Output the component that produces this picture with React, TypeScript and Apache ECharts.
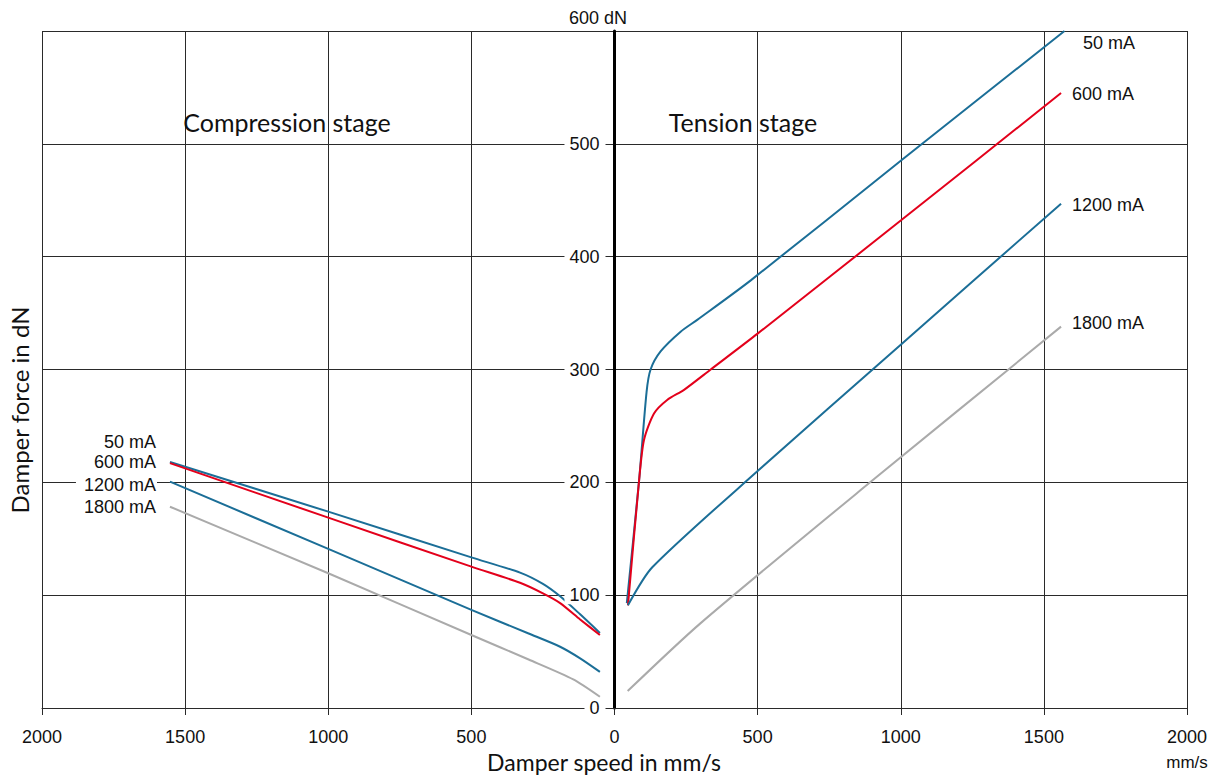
import React, { useEffect, useRef } from 'react';
import * as echarts from 'echarts';

// Speed axis ticks (mm/s), compression stage drawn at negative speeds
const SPEED_MIN = -2000;
const SPEED_MAX = 2000;
const SPEED_STEP = 500;
const FORCE_MIN = 0;
const FORCE_MAX = 600;
const FORCE_STEP = 100;

const currents = ['50 mA', '600 mA', '1200 mA', '1800 mA'];

// Compression stage: [speed (negative), force dN]
const comp50: number[][] = [
  [-1553, 218], [-1000, 174], [-500, 133.5],
  [-330, 120], [-250, 110], [-190, 99], [-120, 83], [-51, 66.5],
];
const comp600: number[][] = [
  [-1553, 217], [-1000, 168.7], [-500, 125.3],
  [-330, 111], [-250, 101.6], [-190, 93], [-120, 78.5], [-51, 64.7],
];
const comp1200: number[][] = [
  [-1553, 200.6], [-1000, 141], [-500, 87],
  [-300, 66], [-190, 54.3], [-120, 44], [-51, 32],
];
const comp1800: number[][] = [
  [-1553, 178.4], [-1000, 119.4], [-500, 64.7],
  [-300, 43], [-144, 25.4], [-51, 10],
];

// Tension stage: [speed, force dN]
const ten50: number[][] = [
  [43, 93], [86, 202], [112, 280], [126, 300], [161, 316], [231, 333.5],
  [289, 344], [476, 379], [1000, 485], [1572, 600],
];
const ten600: number[][] = [
  [47, 91], [86, 202], [103, 237.5], [138, 261], [184, 273], [243, 282],
  [336, 300], [501, 332], [1000, 432], [1560, 545],
];
const ten1200: number[][] = [
  [47, 91], [132, 124.7], [500, 210], [1000, 322], [1560, 447],
];
const ten1800: number[][] = [
  [46, 15], [300, 75], [893, 200], [1560, 338],
];

const BLUE = '#1b6e97';
const RED = '#e3001b';
const GRAY = '#aaaaaa';
const GRID = '#2a2a2a';
const TICK_FONT = '"Liberation Sans", Arial, sans-serif';
const TITLE_FONT = 'Lato, "Noto Sans", sans-serif';

function lineSeries(name: string, data: number[][], color: string) {
  return {
    name,
    type: 'line',
    data,
    smooth: 0.25,
    showSymbol: false,
    symbol: 'none',
    lineStyle: { color, width: 2 },
    z: 3,
  };
}

export default function App() {
  const ref = useRef<HTMLDivElement>(null);
  useEffect(() => {
    const chart = echarts.init(ref.current!, null, { renderer: 'svg' });
    const labelStyle = { fontFamily: TICK_FONT, fontSize: 18, fill: '#111' };
    const option: any = {
      animation: false,
      backgroundColor: '#fff',
      grid: { left: 42, right: 28, top: 31, bottom: 68, containLabel: false, outerBoundsMode: 'none' },
      xAxis: {
        type: 'value',
        min: SPEED_MIN,
        max: SPEED_MAX,
        interval: SPEED_STEP,
        position: 'bottom',
        axisLine: { show: true, onZero: false, lineStyle: { color: GRID, width: 1 } },
        axisTick: { show: true, length: 7, lineStyle: { color: GRID } },
        axisLabel: {
          show: true,
          margin: 20,
          fontSize: 18,
          fontFamily: TICK_FONT,
          color: '#111',
          showMinLabel: true,
          showMaxLabel: true,
          formatter: (v: number) => String(Math.abs(v)),
        },
        splitLine: { show: true, lineStyle: { color: GRID, width: 1 } },
      },
      yAxis: [
        {
          type: 'value',
          min: FORCE_MIN,
          max: FORCE_MAX,
          interval: FORCE_STEP,
          position: 'left',
          axisLine: { show: true, onZero: true, lineStyle: { color: '#000', width: 3 } },
          axisTick: { show: false },
          axisLabel: { show: false },
          splitLine: { show: true, lineStyle: { color: GRID, width: 1 } },
        },
        {
          type: 'value',
          min: FORCE_MIN,
          max: FORCE_MAX,
          interval: FORCE_STEP,
          position: 'left',
          offset: -572.5,
          z: 6,
          axisLine: { show: false, onZero: false },
          axisTick: { show: false },
          splitLine: { show: false },
          axisLabel: {
            show: true,
            margin: 9,
            fontSize: 18,
            fontFamily: TICK_FONT,
            color: '#111',
            backgroundColor: '#fff',
            padding: [0, 6, 0, 5],
            formatter: (v: number) => (v >= FORCE_MAX ? '' : String(v)),
          },
        },
      ],
      series: [
        lineSeries(currents[0] + ' C', comp50, BLUE),
        lineSeries(currents[1] + ' C', comp600, RED),
        lineSeries(currents[2] + ' C', comp1200, BLUE),
        lineSeries(currents[3] + ' C', comp1800, GRAY),
        lineSeries(currents[0] + ' T', ten50, BLUE),
        lineSeries(currents[1] + ' T', ten600, RED),
        lineSeries(currents[2] + ' T', ten1200, BLUE),
        lineSeries(currents[3] + ' T', ten1800, GRAY),
      ],
      graphic: [
        { type: 'text', x: 598, y: 18, z: 10, style: { ...labelStyle, text: '600 dN', align: 'center', verticalAlign: 'middle' } },
        { type: 'text', x: 1187, y: 762, z: 10, style: { ...labelStyle, fontSize: 17, text: 'mm/s', align: 'center', verticalAlign: 'middle' } },
        { type: 'text', x: 604, y: 762, z: 10, style: { fontFamily: TITLE_FONT, fontSize: 23, fill: '#111', text: 'Damper speed in mm/s', align: 'center', verticalAlign: 'middle' } },
        { type: 'text', x: 19, y: 410, rotation: Math.PI / 2, z: 10, style: { fontFamily: TITLE_FONT, fontSize: 24, fill: '#111', text: 'Damper force in dN', align: 'center', verticalAlign: 'middle' } },
        { type: 'text', x: 287, y: 122, z: 10, style: { fontFamily: TITLE_FONT, fontSize: 25, fill: '#111', text: 'Compression stage', align: 'center', verticalAlign: 'middle' } },
        { type: 'text', x: 743, y: 122, z: 10, style: { fontFamily: TITLE_FONT, fontSize: 25, fill: '#111', text: 'Tension stage', align: 'center', verticalAlign: 'middle' } },
        // current labels, compression side
        { type: 'text', x: 157, y: 442, z: 10, style: { ...labelStyle, text: currents[0], align: 'right', verticalAlign: 'middle', backgroundColor: '#fff', padding: [1, 1, 1, 8] } },
        { type: 'text', x: 157, y: 462, z: 10, style: { ...labelStyle, text: currents[1], align: 'right', verticalAlign: 'middle', backgroundColor: '#fff', padding: [1, 1, 1, 8] } },
        { type: 'text', x: 157, y: 485, z: 10, style: { ...labelStyle, text: currents[2], align: 'right', verticalAlign: 'middle', backgroundColor: '#fff', padding: [1, 1, 1, 8] } },
        { type: 'text', x: 157, y: 507, z: 10, style: { ...labelStyle, text: currents[3], align: 'right', verticalAlign: 'middle', backgroundColor: '#fff', padding: [1, 1, 1, 8] } },
        // current labels, tension side
        { type: 'text', x: 1083, y: 43, z: 10, style: { ...labelStyle, text: currents[0], align: 'left', verticalAlign: 'middle' } },
        { type: 'text', x: 1072, y: 94, z: 10, style: { ...labelStyle, text: currents[1], align: 'left', verticalAlign: 'middle' } },
        { type: 'text', x: 1072, y: 205, z: 10, style: { ...labelStyle, text: currents[2], align: 'left', verticalAlign: 'middle' } },
        { type: 'text', x: 1072, y: 323, z: 10, style: { ...labelStyle, text: currents[3], align: 'left', verticalAlign: 'middle' } },
      ],
    };
    chart.setOption(option);
    return () => chart.dispose();
  }, []);
  return (
    <div
      ref={ref}
      style={{ position: 'fixed', left: 0, top: 0, width: 1215, height: 776, background: '#fff' }}
    />
  );
}
